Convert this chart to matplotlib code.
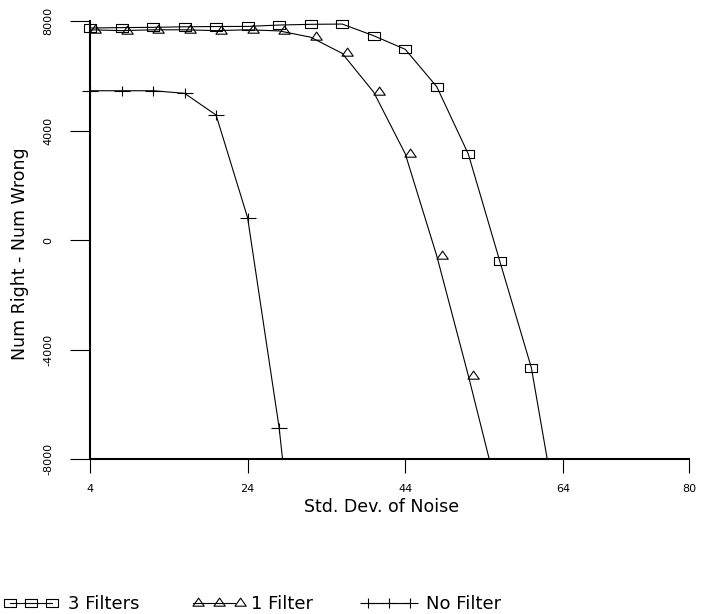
import matplotlib
matplotlib.use("Agg")
import matplotlib.pyplot as plt
from matplotlib.path import Path

# values
noise_3f = [4, 8, 12, 16, 20, 24, 28, 32, 36, 40, 44, 48, 52, 56, 60, 64]
score_3f = [7745, 7760, 7770, 7790, 7800, 7804, 7854, 7880, 7890, 7463, 6966,
            5600, 3142, -778, -4665, -11300]

noise_1f = [4, 8, 12, 16, 20, 24, 28, 32, 36, 40, 44, 48, 52, 56]
score_1f = [7680, 7650, 7680, 7680, 7650, 7680, 7640, 7410, 6820, 5400, 3150,
            -580, -4950, -9550]

noise_nf = [4, 8, 12, 16, 20, 24, 28, 32]
score_nf = [5454, 5454, 5454, 5360, 4566, 815, -6857, -17500]

x_ticks = [4, 24, 44, 64, 80]
y_ticks = [-8000, -4000, 0, 4000, 8000]

# marker shapes like the old plotter output
rect = Path([(-1, -0.75), (1, -0.75), (1, 0.75), (-1, 0.75), (-1, -0.75)], closed=True)
tri = Path([(-0.05, -0.25), (1, -0.25), (0.475, 0.5), (-0.05, -0.25)], closed=True)
cross = Path([(-1, 0), (1, 0), (0, -0.6), (0, 0.6)],
             [Path.MOVETO, Path.LINETO, Path.MOVETO, Path.LINETO])

plt.rcParams['font.family'] = 'DejaVu Sans'
plt.rcParams['axes.unicode_minus'] = False

fig = plt.figure(figsize=(7.12, 6.14), dpi=100)
ax = fig.add_axes([0.1153, 0.2524, 0.8524, 0.7267])

style = dict(color='black', lw=0.8, mfc='none', mec='black', mew=0.8)
ax.plot(noise_3f, score_3f, marker=rect, ms=8.6, label='3 Filters', **style)
ax.plot(noise_1f, score_1f, marker=tri, ms=15.5, label='1 Filter', **style)
ax.plot(noise_nf, score_nf, marker=cross, ms=11.5, label='No Filter', **style)

ax.set_xlim(3.0, 80)
ax.set_ylim(-8000, 8300)
ax.spines['top'].set_visible(False)
ax.spines['right'].set_visible(False)
ax.spines['left'].set_position(('data', 4))
ax.spines['left'].set_bounds(-8000, 8000)
ax.spines['bottom'].set_bounds(4, 80)
for s in ('left', 'bottom'):
    ax.spines[s].set_linewidth(1.5)

ax.set_xticks(x_ticks)
ax.set_yticks(y_ticks)
ax.tick_params(axis='y', direction='out', length=14.4, width=0.8, pad=12,
               labelsize=8, labelrotation=90)
ax.tick_params(axis='x', direction='out', length=10, width=0.8, pad=8, labelsize=8)
for lab in ax.get_yticklabels():
    lab.set_va('center')

ax.set_xlabel('Std. Dev. of Noise', fontsize=12.5)
ax.xaxis.set_label_coords(0.494, -0.087)
ax.set_ylabel('Num Right - Num Wrong', fontsize=12.5)
ax.yaxis.set_label_coords(-0.088, 0.461)

handles, labels = ax.get_legend_handles_labels()
legend_x = [5 / 712, 188 / 712, 363 / 712]
for h, l, xpos in zip(handles, labels, legend_x):
    leg = fig.legend([h], [l], loc='center left', bbox_to_anchor=(xpos, 10 / 614),
                     frameon=False, numpoints=3, handlelength=2.9, handletextpad=0.6,
                     borderpad=0, borderaxespad=0, fontsize=13)

fig.savefig('out.png', dpi=100)
